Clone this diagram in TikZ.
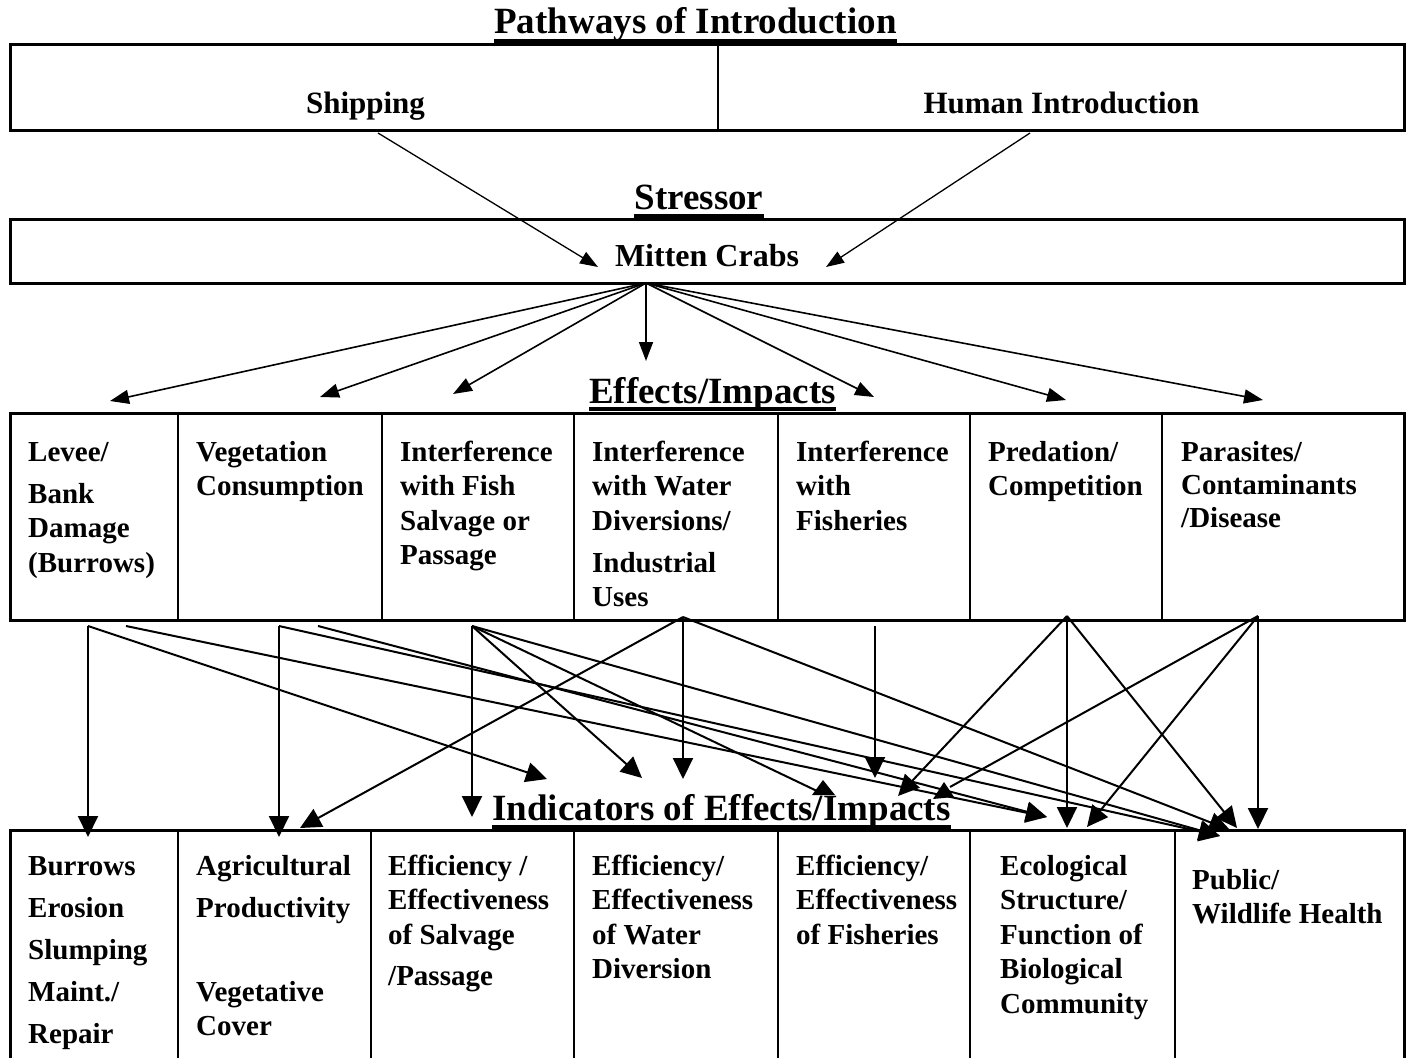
\documentclass[tikz,border=0pt]{standalone}
\usepackage{fontspec}
\setmainfont{Liberation Serif}
\usetikzlibrary{arrows.meta,calc}
\begin{document}
\begin{tikzpicture}[x=1pt,y=-1pt,
  frame/.style={draw, line width=3pt},
  divider/.style={line width=2pt},
  ttl/.style={font=\fontsize{37}{42}\selectfont\bfseries, inner sep=0pt, anchor=base},
  uline/.style={line width=4pt},
  toptext/.style={font=\fontsize{31}{36}\selectfont\bfseries, inner sep=0pt, anchor=base},
  cell/.style={font=\fontsize{29}{34.5}\selectfont\bfseries, inner sep=0pt, anchor=north west, align=left},
  toparrow/.style={line width=1.3pt, -{Triangle[length=18pt,width=13pt]}},
  fanarrow/.style={line width=1.6pt, -{Triangle[length=19pt,width=14pt]}},
  lowarrow/.style={line width=2pt, -{Triangle[length=21pt,width=20pt]}},
  lowline/.style={line width=2pt},
  headtri/.style={fill=black},
]
\useasboundingbox (0,0) rectangle (1410,1057);
\fill[white] (0,0) rectangle (1410,1057);

% ---------- Pathways ----------
\node[ttl] (tpath) at (695.5,34) {Pathways of Introduction};
\draw[uline] ($(tpath.base west)+(0,7.5)$) -- ($(tpath.base east)+(0,7.5)$);
\draw[frame] (10,45) rectangle (1404,130);
\draw[divider] (718,45) -- (718,130);
\node[toptext] (ship) at (365.5,113) {Shipping};
\node[toptext] (human) at (1061.5,113) {Human Introduction};

% ---------- Stressor ----------
\node[ttl] (tstress) at (699,209) {Stressor};
\draw[uline] ($(tstress.base west)+(0,6.5)$) -- ($(tstress.base east)+(0,6.5)$);
\draw[frame] (10,219) rectangle (1404,283);
\node[toptext, font=\fontsize{32}{36}\selectfont\bfseries] (mitten) at (707,266) {Mitten Crabs};

\coordinate (shipSrc) at (378,133);
\coordinate (humSrc) at (1030,133);
\coordinate (mcL) at (598,267);
\coordinate (mcR) at (826,267);
\draw[toparrow] (shipSrc) -- (mcL);
\draw[toparrow] (humSrc) -- (mcR);

% ---------- Effects ----------
\node[ttl] (teff) at (712.5,403) {Effects/Impacts};
\draw[uline] ($(teff.base west)+(0,6)$) -- ($(teff.base east)+(0,6)$);
\draw[frame] (10,413) rectangle (1404,620);
\foreach \x in {178,382,574,778,970,1162} \draw[divider] (\x,413) -- (\x,620);

\node[cell] (eLev) at (28,439) {\rule{0pt}{22pt}Levee/\\[7.5pt]Bank\\Damage\\(Burrows)};
\node[cell] (eVeg) at (196,439) {\rule{0pt}{22pt}Vegetation\\Consumption};
\node[cell] (eFish) at (400,439) {\rule{0pt}{22pt}Interference\\with Fish\\Salvage or\\Passage};
\node[cell] (eWat) at (592,439) {\rule{0pt}{22pt}Interference\\with Water\\Diversions/\\[7.5pt]Industrial\\Uses};
\node[cell] (eFis) at (796,439) {\rule{0pt}{22pt}Interference\\with\\Fisheries};
\node[cell] (ePred) at (988,439) {\rule{0pt}{22pt}Predation/\\Competition};
\node[cell] (ePar) at (1181,439) {\rule{0pt}{22pt}Parasites/\\[-1.5pt]Contaminants\\[-1.5pt]/Disease};

\coordinate (mcSrc) at (646,283);
\foreach \tx/\ty in {110/401, 320/397, 453/394, 646/361, 874/397, 1066/400, 1263/400}
  \draw[fanarrow] (mcSrc) -- (\tx,\ty);

% ---------- Indicators ----------
\node[ttl] (tind) at (721.5,820) {Indicators of Effects/Impacts};
\draw[uline] ($(tind.base west)+(0,7)$) -- ($(tind.base east)+(0,7)$);
\draw[frame] (10,830) rectangle (1404,1075);
\foreach \x in {178,371,574,778,970,1175} \draw[divider] (\x,830) -- (\x,1075);

\node[cell] (iBur) at (28,853) {\rule{0pt}{22pt}Burrows\\[7.5pt]Erosion\\[7.5pt]Slumping\\[7.5pt]Maint./\\[7.5pt]Repair};
\node[cell] (iAgr) at (196,853) {\rule{0pt}{22pt}Agricultural\\[7.5pt]Productivity\\[49.5pt]Vegetative\\Cover};
\node[cell] (iSal) at (388,853) {\rule{0pt}{22pt}Efficiency /\\Effectiveness\\of Salvage\\[6.5pt]/Passage};
\node[cell] (iWat) at (592,853) {\rule{0pt}{22pt}Efficiency/\\Effectiveness\\of Water\\Diversion};
\node[cell] (iFis) at (796,853) {\rule{0pt}{22pt}Efficiency/\\Effectiveness\\of Fisheries};
\node[cell] (iEco) at (1000,853) {\rule{0pt}{22pt}Ecological\\Structure/\\Function of\\Biological\\Community};
\node[cell] (iPub) at (1192,867) {\rule{0pt}{22pt}Public/\\Wildlife Health};

% ---------- lower connectors ----------
\coordinate (sLevA) at (88,626);
\coordinate (sLevB) at (126,626);
\coordinate (sVegA) at (279,626);
\coordinate (sVegB) at (318,626);
\coordinate (sFish) at (472,626);
\coordinate (sWat) at (683,617);
\coordinate (sFis) at (875,626);
\coordinate (sPred) at (1067,616);
\coordinate (sPar) at (1258,616);

\coordinate (tBur) at (88,837);
\coordinate (tAgrV) at (279,837);
\coordinate (tAgrD) at (300,828);
\coordinate (tSalV) at (472,817);
\coordinate (tA) at (547,779);
\coordinate (tB) at (642,778);
\coordinate (tWatV) at (683,779);
\coordinate (tFisV) at (875,778);
\coordinate (tC) at (817,791);
\coordinate (tD) at (898,796);
\coordinate (tE) at (950,787);
\coordinate (tEcoL) at (1047,817);
\coordinate (tEcoV) at (1067,828);
\coordinate (tEcoR) at (1087,827);
\coordinate (tPubL) at (1220,836);
\coordinate (tPubM) at (1230,830);
\coordinate (tPubN) at (1237,828);
\coordinate (tPubV) at (1258,829);

\draw[lowarrow] (sLevA) -- (tBur);
\draw[lowarrow] (sLevA) -- (tA);
\draw[lowarrow] (sLevB) -- (tEcoL);
\draw[lowarrow] (sVegA) -- (tAgrV);
\draw[lowarrow] (sVegA) -- (tPubL);
\draw[lowarrow] (sVegB) -- (tEcoL);
\draw[lowarrow] (sFish) -- (tSalV);
\draw[lowarrow] (sFish) -- (tB);
\draw[lowline] (sFish) -- (tC);
\fill[headtri] (823,780) -- (835,795) -- (812,795) -- cycle;
\draw[lowarrow] (sFish) -- (tPubL);
\draw[lowarrow] (sWat) -- (tAgrD);
\draw[lowarrow] (sWat) -- (tWatV);
\draw[lowarrow] (sWat) -- (tPubM);
\draw[lowarrow] (sFis) -- (tFisV);
\draw[lowarrow] (sPred) -- (tD);
\draw[lowarrow] (sPred) -- (tEcoV);
\draw[lowarrow] (sPred) -- (tPubN);
\draw[lowline] (sPar) -- (tE);
\fill[headtri] (944,782) -- (954,797) -- (933,799) -- cycle;
\draw[lowarrow] (sPar) -- (tEcoR);
\draw[lowarrow] (sPar) -- (tPubV);
\end{tikzpicture}
\end{document}
